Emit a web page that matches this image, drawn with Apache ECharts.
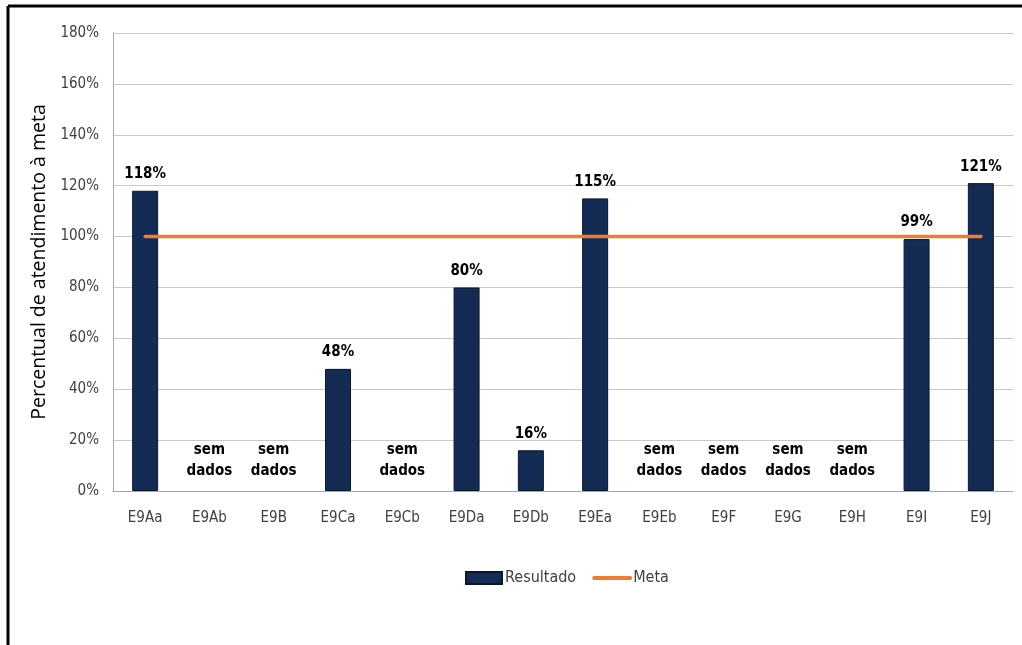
<!DOCTYPE html>
<html><head><meta charset="utf-8">
<script src="https://cdn.jsdelivr.net/npm/echarts@6/dist/echarts.min.js"></script>
<style>html,body{margin:0;padding:0;background:#fff}#c{width:1022px;height:645px}</style>
</head><body><div id="c"></div>
<script>
const categories = ['E9Aa','E9Ab','E9B','E9Ca','E9Cb','E9Da','E9Db','E9Ea','E9Eb','E9F','E9G','E9H','E9I','E9J'];
const resultado = [118, null, null, 48, null, 80, 16, 115, null, null, null, null, 99, 121];
const meta = [100,100,100,100,100,100,100,100,100,100,100,100,100,100];
const missingLabel = 'sem\ndados';
const yTicks = [0,20,40,60,80,100,120,140,160,180];

const FONT = "'Liberation Sans Narrow','DejaVu Sans Condensed','Liberation Sans',sans-serif";
const chart = echarts.init(document.getElementById('c'));
const barData = resultado.map(v => v === null
  ? {value: 0, itemStyle: {borderWidth: 0, color: 'transparent'}, label: {formatter: missingLabel, lineHeight: 21}}
  : v);
chart.setOption({
  animation: false,
  textStyle: {fontFamily: FONT},
  grid: {left: 113, right: 9, top: 33, bottom: 154},
  legend: {
    top: 565, left: 460, itemGap: 16,
    textStyle: {fontFamily: FONT, fontSize: 16, color: '#404040', padding: [0, 0, 0, -2]},
    itemWidth: 36, itemHeight: 12,
    data: [{name: 'Resultado', icon: 'rect'}, {name: 'Meta', itemStyle: {opacity: 0}, lineStyle: {width: 4, color: '#ed7d31'}}]
  },
  xAxis: {
    type: 'category', data: categories,
    axisLine: {lineStyle: {color: '#a6a6a6'}},
    axisTick: {show: false},
    axisLabel: {fontFamily: FONT, fontSize: 15, color: '#404040', margin: 20}
  },
  yAxis: {
    type: 'value', min: yTicks[0], max: yTicks[yTicks.length-1], interval: 20,
    name: 'Percentual de atendimento à meta', nameLocation: 'middle', nameGap: 60,
    nameTextStyle: {fontFamily: "'Open Sans','DejaVu Sans',sans-serif", fontSize: 19.5, color: '#000'},
    axisLine: {show: true, lineStyle: {color: '#a6a6a6'}},
    axisTick: {show: false},
    splitLine: {lineStyle: {color: '#c8c8c8'}},
    axisLabel: {fontFamily: FONT, fontSize: 15, color: '#404040', margin: 14, formatter: v => v + '%'}
  },
  series: [
    {
      name: 'Resultado', type: 'bar', data: barData, barWidth: 26,
      itemStyle: {color: '#142b54', borderColor: '#0a1730', borderWidth: 1},
      label: {show: true, position: 'top', distance: 9, fontFamily: FONT, fontSize: 15, fontWeight: 'bold', color: '#000', formatter: p => p.value + '%'},
      z: 2
    },
    {
      name: 'Meta', type: 'line', data: meta, symbol: 'none',
      lineStyle: {color: '#ed7d31', width: 3.5, cap: 'round'},
      itemStyle: {color: '#ed7d31'}, z: 3
    }
  ],
  graphic: [
    {type: 'line', shape: {x1: 8, y1: 6, x2: 1022, y2: 6}, style: {stroke: '#000', lineWidth: 3}},
    {type: 'line', shape: {x1: 8, y1: 6, x2: 8, y2: 645}, style: {stroke: '#000', lineWidth: 3}}
  ]
});
</script></body></html>
